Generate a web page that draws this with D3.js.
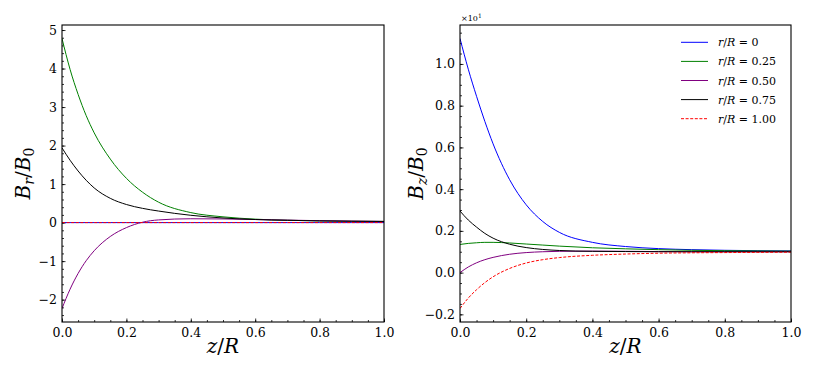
<!DOCTYPE html>
<html>
<head>
<meta charset="utf-8">
<script src="https://cdn.jsdelivr.net/npm/d3@7"></script>
<style>
  body { margin: 0; background: #fff; }
</style>
</head>
<body>
<div id="chart"></div>
<script>
// sample positions along z/R
var zGrid = [0, 0.025, 0.05, 0.075, 0.1, 0.15, 0.2, 0.25, 0.3, 0.4, 0.5, 0.6, 0.7, 0.8, 0.9, 1.0];

// left panel: B_r / B_0
var brR000 = [0, 0, 0, 0, 0, 0, 0, 0, 0, 0, 0, 0, 0, 0, 0, 0];
var brR025 = [4.78, 3.98, 3.33, 2.78, 2.33, 1.65, 1.15, 0.79, 0.53, 0.26, 0.15, 0.09, 0.06, 0.045, 0.035, 0.03];
var brR050 = [-2.23, -1.73, -1.32, -0.99, -0.73, -0.36, -0.13, 0.01, 0.07, 0.1, 0.095, 0.08, 0.065, 0.05, 0.04, 0.03];
var brR075 = [1.94, 1.62, 1.34, 1.1, 0.9, 0.63, 0.47, 0.37, 0.3, 0.19, 0.12, 0.08, 0.06, 0.045, 0.035, 0.03];
var brR100 = [0, 0, 0, 0, 0, 0, 0, 0, 0, 0, 0, 0, 0, 0, 0, 0];

// right panel: B_z / B_0 (x10^1)
var bzR000 = [1.122, 0.975, 0.845, 0.725, 0.617, 0.445, 0.325, 0.245, 0.193, 0.145, 0.125, 0.115, 0.11, 0.107, 0.105, 0.104];
var bzR025 = [0.135, 0.14, 0.143, 0.145, 0.145, 0.142, 0.137, 0.132, 0.127, 0.119, 0.114, 0.11, 0.107, 0.105, 0.104, 0.103];
var bzR050 = [0.0, 0.027, 0.047, 0.062, 0.073, 0.088, 0.096, 0.1, 0.102, 0.103, 0.102, 0.101, 0.1, 0.1, 0.1, 0.1];
var bzR075 = [0.295, 0.252, 0.218, 0.188, 0.165, 0.136, 0.12, 0.111, 0.106, 0.102, 0.101, 0.1, 0.1, 0.1, 0.1, 0.1];
var bzR100 = [-0.172, -0.122, -0.082, -0.048, -0.02, 0.02, 0.046, 0.062, 0.072, 0.083, 0.089, 0.093, 0.095, 0.096, 0.097, 0.098];

var legendLabels = ["0", "0.25", "0.50", "0.75", "1.00"];
var xTickLabels = ["0.0", "0.2", "0.4", "0.6", "0.8", "1.0"];

var lineStyles = [
    { color: "#0000ff", dash: null },
    { color: "#008000", dash: null },
    { color: "#800080", dash: null },
    { color: "#000000", dash: null },
    { color: "#ff0000", dash: "3,1.6" }
];

var FONT = "'DejaVu Serif', 'Liberation Serif', serif";
var w = 830, h = 365;

var svg = d3.select("#chart")
    .append("svg")
    .attr("width", w)
    .attr("height", h)
    .attr("font-family", FONT);

function fmtMinus(s) { return s.replace("-", "\u2212"); }

function drawPanel(opts) {
    var x = d3.scaleLinear().domain([0, 1]).range([opts.x0, opts.x1]);

    var all = d3.merge(opts.series);
    var ext = d3.extent(all);
    var pad = 0.05 * (ext[1] - ext[0]);
    var y = d3.scaleLinear().domain([ext[0] - pad, ext[1] + pad]).range([opts.y1, opts.y0]);

    var g = svg.append("g");

    // minor ticks
    g.append("g")
        .attr("transform", "translate(0," + opts.y1 + ")")
        .call(d3.axisBottom(x).tickValues(d3.range(0, 1.0001, 0.05)).tickSize(-2).tickFormat(""))
        .call(function (a) { a.select(".domain").remove(); });
    g.append("g")
        .attr("transform", "translate(" + opts.x0 + ",0)")
        .call(d3.axisLeft(y).tickValues(opts.yMinor.filter(function (v) { return v >= y.domain()[0] && v <= y.domain()[1]; }))
            .tickSize(-2).tickFormat(""))
        .call(function (a) { a.select(".domain").remove(); });

    // major ticks
    var xa = g.append("g")
        .attr("transform", "translate(0," + opts.y1 + ")")
        .call(d3.axisBottom(x).tickValues(d3.range(0, 1.0001, 0.2)).tickSize(-3.5).tickPadding(6)
            .tickFormat(function (d, i) { return xTickLabels[i]; }));
    var ya = g.append("g")
        .attr("transform", "translate(" + opts.x0 + ",0)")
        .call(d3.axisLeft(y).tickValues(opts.yMajor).tickSize(-3.5).tickPadding(5)
            .tickFormat(function (d) { return fmtMinus(opts.yFormat(d)); }));
    [xa, ya].forEach(function (a) {
        a.select(".domain").remove();
        a.selectAll("text").style("font-size", "12.5px");
    });
    g.selectAll(".tick line").attr("stroke", "#000").attr("stroke-width", 0.8);

    // clip
    var clipId = "clip" + opts.x0;
    svg.append("clipPath").attr("id", clipId)
        .append("rect")
        .attr("x", opts.x0).attr("y", opts.y0)
        .attr("width", opts.x1 - opts.x0).attr("height", opts.y1 - opts.y0);

    var line = d3.line()
        .x(function (d, i) { return x(zGrid[i]); })
        .y(function (d) { return y(d); })
        .curve(d3.curveMonotoneX);

    var lines = g.append("g").attr("clip-path", "url(#" + clipId + ")");
    opts.series.forEach(function (s, i) {
        lines.append("path")
            .attr("d", line(s))
            .attr("fill", "none")
            .attr("stroke", lineStyles[i].color)
            .attr("stroke-width", 1)
            .attr("stroke-dasharray", lineStyles[i].dash);
    });

    // frame
    g.append("rect")
        .attr("x", opts.x0).attr("y", opts.y0)
        .attr("width", opts.x1 - opts.x0).attr("height", opts.y1 - opts.y0)
        .attr("fill", "none")
        .attr("stroke", "#000")
        .attr("stroke-width", 1.1);

    // x label
    var xl = g.append("text")
        .attr("x", (opts.x0 + opts.x1) / 2)
        .attr("y", 353)
        .attr("text-anchor", "middle")
        .style("font-size", "20px");
    xl.append("tspan").style("font-style", "italic").text("z");
    xl.append("tspan").text("/");
    xl.append("tspan").style("font-style", "italic").text("R");

    // y label
    var yl = g.append("text")
        .attr("transform", "translate(" + opts.ylx + "," + ((opts.y0 + opts.y1) / 2) + ") rotate(-90)")
        .attr("text-anchor", "middle")
        .style("font-size", "20px");
    yl.append("tspan").style("font-style", "italic").text("B");
    yl.append("tspan").style("font-style", "italic").style("font-size", "14px").attr("dy", 4).text(opts.sub);
    yl.append("tspan").attr("dy", -4).text("/");
    yl.append("tspan").style("font-style", "italic").text("B");
    yl.append("tspan").style("font-size", "14px").attr("dy", 4).text("0");

    return { x: x, y: y, g: g };
}

drawPanel({
    x0: 62, x1: 384, y0: 25, y1: 322,
    series: [brR000, brR025, brR050, brR075, brR100],
    yMajor: d3.range(-2, 5.01, 1),
    yMinor: d3.range(-2.6, 5.2, 0.2).map(function (v) { return Math.round(v * 10) / 10; }),
    yFormat: d3.format("d"),
    ylx: 30, sub: "r"
});

drawPanel({
    x0: 460, x1: 791, y0: 25, y1: 322,
    series: [bzR000, bzR025, bzR050, bzR075, bzR100],
    yMajor: d3.range(-0.2, 1.01, 0.2).map(function (v) { return Math.round(v * 10) / 10; }),
    yMinor: d3.range(-0.25, 1.2, 0.05).map(function (v) { return Math.round(v * 100) / 100; }),
    yFormat: d3.format(".1f"),
    ylx: 423, sub: "z"
});

// offset text
var off = svg.append("text").attr("x", 461).attr("y", 21).style("font-size", "8px");
off.append("tspan").text("\u00d710");
off.append("tspan").attr("dy", -3).style("font-size", "6px").text("1");

// legend
var leg = svg.append("g");
legendLabels.forEach(function (lab, i) {
    var ly = 42.3 + i * 19.1;
    leg.append("line")
        .attr("x1", 681).attr("x2", 708)
        .attr("y1", ly).attr("y2", ly)
        .attr("stroke", lineStyles[i].color)
        .attr("stroke-width", 1)
        .attr("stroke-dasharray", lineStyles[i].dash);
    var t = leg.append("text")
        .attr("x", 718).attr("y", ly + 4)
        .style("font-size", "11px");
    t.append("tspan").style("font-style", "italic").text("r");
    t.append("tspan").text("/");
    t.append("tspan").style("font-style", "italic").text("R");
    t.append("tspan").text(" = " + lab);
});

// axis groups set their own sans-serif family; force the serif one on every label
svg.selectAll("g").attr("font-family", null);
svg.selectAll("text").attr("font-family", FONT).style("font-family", FONT);
</script>
</body>
</html>
